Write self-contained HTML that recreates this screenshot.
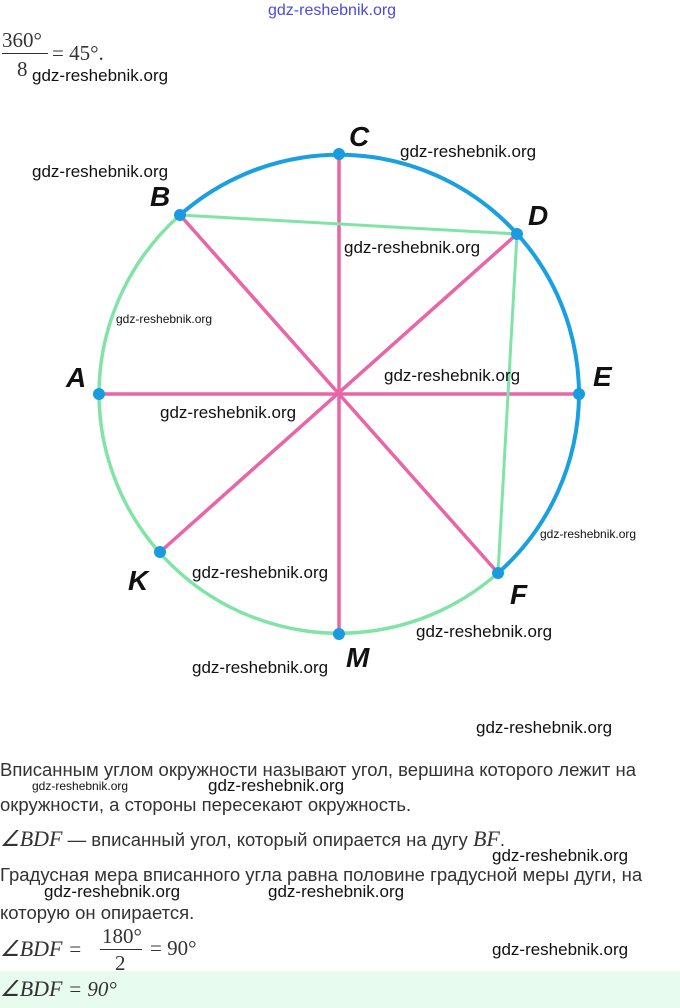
<!DOCTYPE html>
<html><head><meta charset="utf-8"><style>
body{margin:0;width:680px;height:1008px;position:relative;background:#fff;overflow:hidden;font-family:"Liberation Sans",sans-serif}
.w{position:absolute;font-family:"Liberation Sans Narrow","Liberation Sans",sans-serif;font-size:17px;color:#111;white-space:nowrap}
.s{font-size:12px}
.t{position:absolute;left:0;font-size:18.5px;color:#333;white-space:nowrap}
.m{font-family:"Liberation Serif",serif;font-style:italic;font-size:22px;color:#333}
.n{font-family:"Liberation Serif",serif;font-size:21px;color:#333}
.L{font-family:"Liberation Sans Narrow","Liberation Sans",sans-serif;font-weight:bold;font-style:italic;font-size:28px;fill:#111}
</style></head><body>
<div class="w" style="left:268px;top:2px;color:#4a4ae0;font-size:16px">gdz-reshebnik.org</div>
<div style="position:absolute;left:2px;top:28px" class="n">360°</div>
<div style="position:absolute;left:2px;top:53px;width:46px;border-top:1px solid #333"></div>
<div style="position:absolute;left:17px;top:57px" class="n">8</div>
<div style="position:absolute;left:52px;top:41px" class="n">= 45°.</div>
<div class="w" style="left:32px;top:66px">gdz-reshebnik.org</div>

<svg style="position:absolute;left:0;top:0" width="680" height="740">
<path d="M180 215 A240 240 0 0 1 579 394 A240 240 0 0 1 498 573" fill="none" stroke="#1aa0e0" stroke-width="4"/>
<path d="M498 573 A240 240 0 0 1 99 394 A240 240 0 0 1 180 215" fill="none" stroke="#80e4a6" stroke-width="3.5"/>
<g stroke="#e865a6" stroke-width="3.5">
<line x1="180" y1="215" x2="498" y2="573"/>
<line x1="339" y1="154" x2="339" y2="634"/>
<line x1="517" y1="234" x2="160" y2="552"/>
<line x1="99" y1="394" x2="579" y2="394"/>
</g>
<g stroke="#80e4a6" stroke-width="3">
<line x1="180" y1="215" x2="517" y2="234"/>
<line x1="517" y1="234" x2="498" y2="573"/>
</g>
<g fill="#1a9be0">
<circle cx="339" cy="154" r="6"/><circle cx="180" cy="215" r="6"/><circle cx="517" cy="234" r="6"/>
<circle cx="99" cy="394" r="6"/><circle cx="579" cy="394" r="6"/><circle cx="160" cy="552" r="6"/>
<circle cx="498" cy="573" r="6"/><circle cx="339" cy="634" r="6"/>
</g>
<text class="L" x="349" y="146">C</text>
<text class="L" x="150" y="206">B</text>
<text class="L" x="528" y="225">D</text>
<text class="L" x="66" y="387">A</text>
<text class="L" x="593" y="386">E</text>
<text class="L" x="128" y="590">K</text>
<text class="L" x="510" y="604">F</text>
<text class="L" x="346" y="667">M</text>
</svg>
<div class="w" style="left:400px;top:142px">gdz-reshebnik.org</div>
<div class="w" style="left:32px;top:162px">gdz-reshebnik.org</div>
<div class="w" style="left:344px;top:238px">gdz-reshebnik.org</div>
<div class="w s" style="left:116px;top:312px">gdz-reshebnik.org</div>
<div class="w" style="left:384px;top:366px">gdz-reshebnik.org</div>
<div class="w" style="left:160px;top:403px">gdz-reshebnik.org</div>
<div class="w s" style="left:540px;top:527px">gdz-reshebnik.org</div>
<div class="w" style="left:192px;top:563px">gdz-reshebnik.org</div>
<div class="w" style="left:416px;top:622px">gdz-reshebnik.org</div>
<div class="w" style="left:192px;top:658px">gdz-reshebnik.org</div>
<div class="w" style="left:476px;top:718px">gdz-reshebnik.org</div>

<div class="t" style="top:759px">Вписанным углом окружности называют угол, вершина которого лежит на</div>
<div class="w s" style="left:32px;top:779px">gdz-reshebnik.org</div>
<div class="w" style="left:208px;top:776px">gdz-reshebnik.org</div>
<div class="t" style="top:794px">окружности, а стороны пересекают окружность.</div>
<div class="t" style="top:826px"><span class="m">∠BDF</span> — вписанный угол, который опирается на дугу <span class="m">BF</span>.</div>
<div class="w" style="left:492px;top:846px">gdz-reshebnik.org</div>
<div class="t" style="top:864px">Градусная мера вписанного угла равна половине градусной меры дуги, на</div>
<div class="w" style="left:44px;top:882px">gdz-reshebnik.org</div>
<div class="w" style="left:268px;top:882px">gdz-reshebnik.org</div>
<div class="t" style="top:902px">которую он опирается.</div>
<div style="position:absolute;left:0;top:936px" class="m">∠BDF <span class="n">=</span></div>
<div style="position:absolute;left:102px;top:924px" class="n">180°</div>
<div style="position:absolute;left:100px;top:949px;width:42px;border-top:1px solid #333"></div>
<div style="position:absolute;left:115px;top:951px" class="n">2</div>
<div style="position:absolute;left:150px;top:936px" class="n">= 90°</div>
<div class="w" style="left:492px;top:940px">gdz-reshebnik.org</div>
<div style="position:absolute;left:0;top:971px;width:680px;height:37px;background:#e7fbee"></div>
<div style="position:absolute;left:0;top:976px" class="m">∠BDF <span class="n">= 90°</span></div>
</body></html>
